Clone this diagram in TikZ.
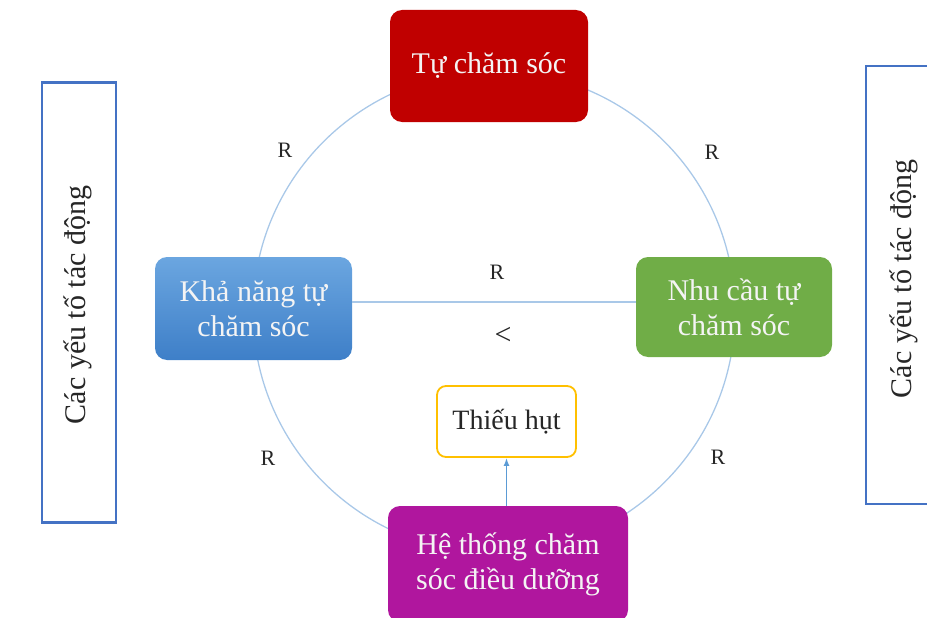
\documentclass[tikz,border=0pt]{standalone}
\usepackage{fontspec}
\setmainfont{Liberation Serif}
\usetikzlibrary{arrows.meta}
\definecolor{cred}{HTML}{C00000}
\definecolor{cgreen}{HTML}{70AD47}
\definecolor{cmag}{HTML}{B0169E}
\definecolor{cbluetop}{HTML}{6BA6E0}
\definecolor{cbluebot}{HTML}{3E7FC8}
\definecolor{cgold}{HTML}{FFC000}
\definecolor{cline}{HTML}{A9C8E8}
\definecolor{cside}{HTML}{4472C4}
\definecolor{carrow}{HTML}{5B9BD5}
\definecolor{ctext}{HTML}{F4F4F4}
\begin{document}
\begin{tikzpicture}[x=1pt,y=-1pt,
  box/.style={rounded corners=12pt, inner sep=0pt, align=center, text=ctext,
    font=\fontsize{30}{35}\selectfont},
  sidebox/.style={draw=cside, line width=2.6pt, fill=white, inner sep=0pt,
    minimum width=74pt, minimum height=440pt},
  sidetext/.style={rotate=90, font=\fontsize{30}{33}\selectfont, text=black!85},
  lab/.style={font=\fontsize{22}{24}\selectfont, text=black!85},
  conn/.style={draw=cline, line width=1.3pt}]
\useasboundingbox (0,0) rectangle (927,618);
\clip (0,0) rectangle (927,618);
% circle connectors
\coordinate (c) at (494,312);
\draw[conn] (c) circle[radius=241pt];
% nodes
\node[box, fill=cred, minimum width=198pt, minimum height=112pt] (tc) at (489,66) {Tự chăm sóc};
\node[box, top color=cbluetop, bottom color=cbluebot, minimum width=197pt, minimum height=103pt] (kn) at (253.5,308.5) {Khả năng tự\\chăm sóc};
\node[box, fill=cgreen, minimum width=196pt, minimum height=100pt] (nc) at (734,307) {Nhu cầu tự\\chăm sóc};
\node[box, fill=cmag, minimum width=240pt, minimum height=116pt] (ht) at (508,564) {Hệ thống chăm\\sóc điều dưỡng};
\node[box, rounded corners=9pt, draw=cgold, line width=1.8pt, fill=white, text=black!85,
  font=\fontsize{28}{32}\selectfont, minimum width=139pt, minimum height=71pt] (th) at (506.5,421.5) {Thiếu hụt};
% side boxes
\node[sidebox] (sl) at (79,302.5) {};
\node[sidetext] (slt) at (78,305) {Các yếu tố tác động};
\node[sidebox, minimum height=438pt] (sr) at (903,285) {};
\node[sidetext] (srt) at (904,279) {Các yếu tố tác động};
% horizontal connector
\draw[conn] (kn.east |- 0,302) -- (nc.west |- 0,302);
% arrow
\draw[draw=carrow, line width=1.6pt, -{Latex[length=8pt,width=6pt]}] (th.south |- ht.north) -- (th.south);
% labels
\node[lab] (r1) at (285,150) {R};
\node[lab] (r2) at (712,152) {R};
\node[lab] (r3) at (268,458) {R};
\node[lab] (r4) at (718,457) {R};
\node[lab] (r5) at (497,272) {R};
\node[lab, font=\fontsize{30}{32}\selectfont] (lt) at (503,336) {<};
\end{tikzpicture}
\end{document}
